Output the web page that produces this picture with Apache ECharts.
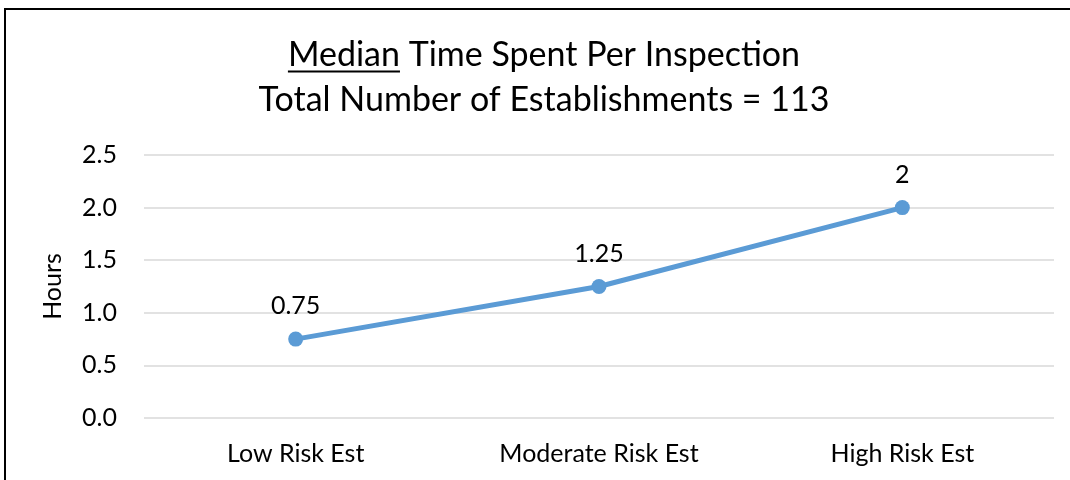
<!DOCTYPE html>
<html><head><meta charset="utf-8">
<script src="https://cdn.jsdelivr.net/npm/echarts@6/dist/echarts.min.js"></script>
<style>html,body{margin:0;padding:0;background:#fff;overflow:hidden}#c{width:1070px;height:480px}</style>
</head><body><div id="c"></div>
<script>
const categories = ['Low Risk Est', 'Moderate Risk Est', 'High Risk Est'];
const medianHours = [0.75, 1.25, 2];
const titleLine1Underlined = 'Median';
const titleLine1Rest = ' Time Spent Per Inspection';
const titleLine2 = 'Total Number of Establishments = 113';
const yAxisName = 'Hours';

const FONT = 'Lato';
const titleSize = 34;
const labelSize = 25;
const titleCX = 544;

const cv = document.createElement('canvas').getContext('2d');
cv.font = titleSize + 'px ' + FONT;
const w1 = cv.measureText(titleLine1Underlined + titleLine1Rest).width;
const wm = cv.measureText(titleLine1Underlined).width;
const ulX = titleCX - w1 / 2;

const chart = echarts.init(document.getElementById('c'));
chart.setOption({
  backgroundColor: '#fff',
  animation: false,
  graphic: [
    { type: 'rect', shape: { x: 5, y: 9, width: 1200, height: 600 }, style: { fill: 'none', stroke: '#000', lineWidth: 2 }, silent: true },
    { type: 'text', x: titleCX, y: 55, style: { text: titleLine1Underlined + titleLine1Rest, font: titleSize + 'px ' + FONT, fill: '#000', align: 'center', verticalAlign: 'middle' } },
    { type: 'text', x: titleCX, y: 100, style: { text: titleLine2, font: titleSize + 'px ' + FONT, fill: '#000', align: 'center', verticalAlign: 'middle' } },
    { type: 'line', shape: { x1: ulX, y1: 71.5, x2: ulX + wm, y2: 71.5 }, style: { stroke: '#000', lineWidth: 2 } }
  ],
  grid: { left: 144, right: 16, top: 155, bottom: 62, containLabel: false },
  xAxis: {
    type: 'category', data: categories, boundaryGap: true,
    axisLine: { show: false }, axisTick: { show: false },
    axisLabel: { color: '#000', fontFamily: FONT, fontSize: labelSize, margin: 23 }
  },
  yAxis: {
    type: 'value', min: 0, max: 2.5, interval: 0.5,
    name: yAxisName, nameLocation: 'middle', nameGap: 79, nameRotate: 90,
    nameTextStyle: { color: '#000', fontFamily: FONT, fontSize: labelSize },
    axisLine: { show: false }, axisTick: { show: false },
    axisLabel: { color: '#000', fontFamily: FONT, fontSize: labelSize, margin: 27, formatter: v => v.toFixed(1) },
    splitLine: { lineStyle: { color: '#d9d9d9', width: 1.5 } }
  },
  series: [{
    type: 'line', data: medianHours,
    lineStyle: { color: '#5b9bd5', width: 5 },
    itemStyle: { color: '#5b9bd5' },
    symbol: 'circle', symbolSize: 15,
    label: { show: true, position: 'top', distance: 13, color: '#000', fontFamily: FONT, fontSize: labelSize }
  }]
});
</script></body></html>
